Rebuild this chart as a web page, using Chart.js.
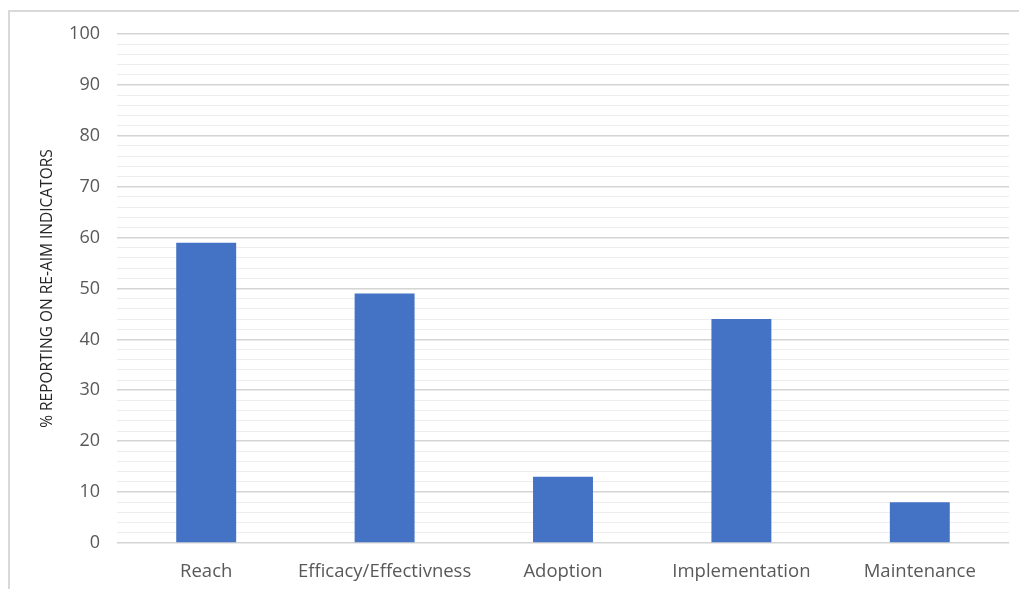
<!DOCTYPE html>
<html>
<head>
<meta charset="utf-8">
<script src="https://cdn.jsdelivr.net/npm/chart.js@4/dist/chart.umd.min.js"></script>
<style>
  html, body { margin: 0; padding: 0; background: #fff; overflow: hidden; }
  #wrap { position: relative; width: 1019px; height: 589px; }
  #frame {
    position: absolute; left: 8px; top: 10px; width: 1100px; height: 700px;
    border-top: 2px solid #d9d9d9; border-left: 2px solid #d9d9d9;
  }
  canvas { position: absolute; left: 0; top: 0; }
</style>
</head>
<body>
<div id="wrap">
  <div id="frame"></div>
  <canvas id="myChart" width="1019" height="589"></canvas>
</div>
<script>
const categories = ["Reach", "Efficacy/Effectivness", "Adoption", "Implementation", "Maintenance"];
const percentReporting = [59, 49, 13, 44, 8];
const yTicks = [0, 10, 20, 30, 40, 50, 60, 70, 80, 90, 100];

const chart = new Chart(document.getElementById("myChart"), {
  type: "bar",
  data: {
    labels: categories,
    datasets: [
      {
        label: "% reporting",
        data: percentReporting,
        backgroundColor: "#4472C4",
        borderWidth: 0,
        barPercentage: 0.336,
        categoryPercentage: 1,
      },
    ],
  },
  options: {
    responsive: false,
    animation: false,
    layout: { padding: { left: 0, right: 10, top: 34, bottom: 0 } },
    plugins: {
      legend: { display: false },
      tooltip: { enabled: false },
    },
    scales: {
      x: {
        grid: { display: false, drawTicks: false },
        border: { display: false },
        ticks: {
          color: "#595959",
          font: { family: "Open Sans", size: 18.5 },
          padding: 18,
          maxRotation: 0,
        },
        afterFit: (scale) => { scale.height = 46; },
      },
      y: {
        min: 0,
        max: 100,
        border: { display: false },
        grid: {
          drawTicks: false,
          color: (ctx) => (ctx.tick && yTicks.includes(ctx.tick.value) ? "#d4d4d4" : "#ededed"),
          lineWidth: (ctx) => (ctx.tick && yTicks.includes(ctx.tick.value) ? 1.6 : 1),
        },
        ticks: {
          stepSize: 2,
          autoSkip: false,
          color: "#595959",
          font: { family: "Open Sans", size: 18 },
          padding: 17,
          callback: (value) => (yTicks.includes(value) ? value : ""),
        },
        title: {
          display: true,
          text: "% REPORTING ON RE-AIM INDICATORS",
          color: "#262626",
          font: { family: "Open Sans", size: 15.5 },
          padding: { top: 38, bottom: 0 },
        },
        afterFit: (scale) => { scale.width = 117; },
      },
    },
  },
});
</script>
</body>
</html>
